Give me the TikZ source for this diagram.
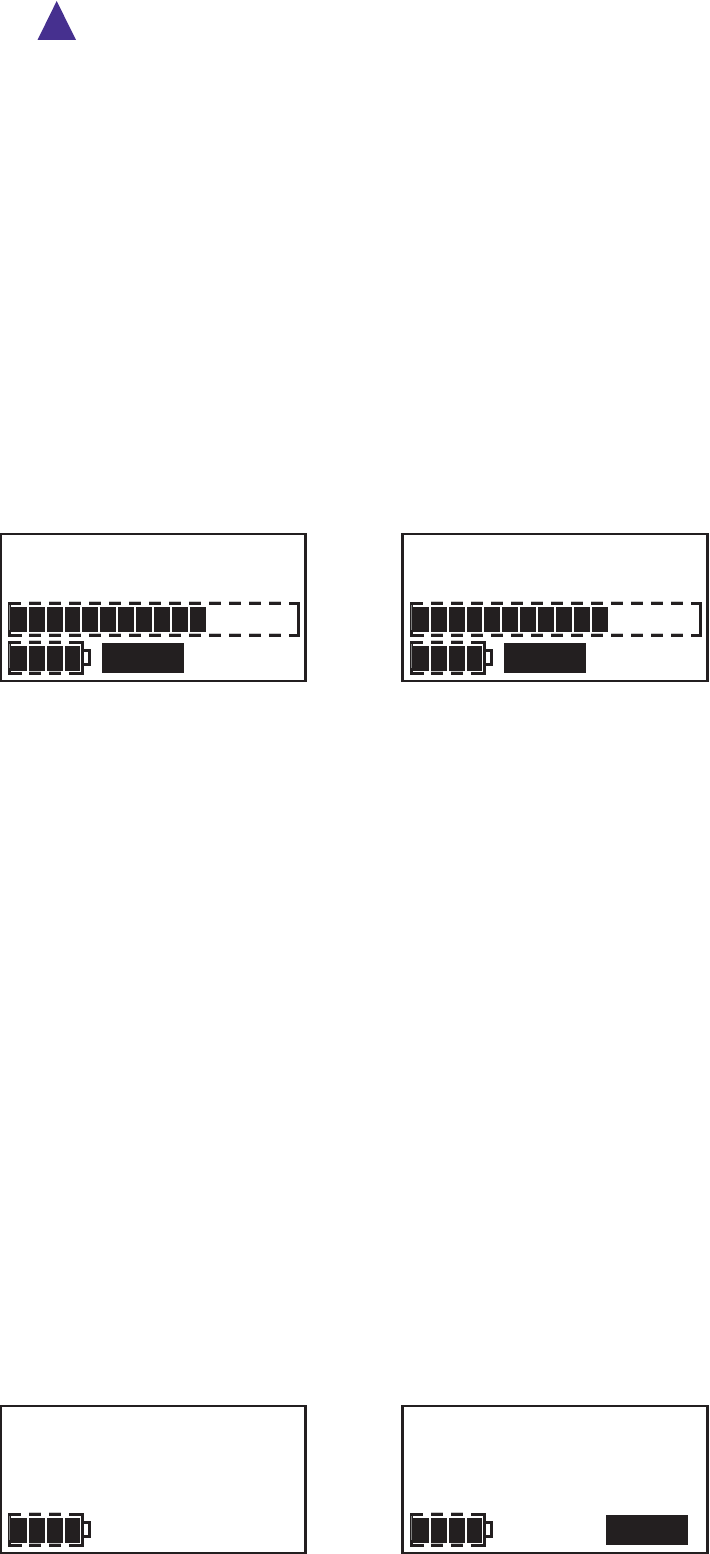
\documentclass[tikz,border=0pt]{standalone}
\definecolor{ink}{HTML}{231F20}
\definecolor{tri}{HTML}{46308F}
\tikzset{
  frameline/.style={draw=ink,line width=2.4pt,fill=white},
  outline/.style={draw=ink,line width=3pt},
  ghost/.style={draw=black!22,line width=1pt},
  leftghost/.style={draw=black!50,line width=1.2pt},
  blockfill/.style={fill=ink,draw=none},
}
% horizontal dashes: #1 = y, #2 = list of start x
\newcommand{\dashrow}[2]{%
  \foreach \dx in {#2}{%
    \draw[ghost] (\dx,#1-2) -- ++(12,0);
    \draw[outline] (\dx,#1) -- ++(12,0);
  }%
}
\newcommand{\battery}{%
  \foreach \a/\b in {11/27,29/45,47/63,65/80.3}{\fill[blockfill] (\a,645.7) rectangle (\b,670.5);}
  \draw[outline] (20.5,642) -- (9,642) -- (9,673.3) -- (21.5,673.3);
  \draw[leftghost] (9.2,644) -- (9.2,668);
  \dashrow{642}{29.3,49.3}
  \dashrow{673.3}{29.3,49.3}
  \draw[outline] (69.3,642) -- (82.3,642) -- (82.3,673.3) -- (69.3,673.3);
  \draw[outline] (82.3,650) -- (89.5,650) -- (89.5,664.5) -- (82.3,664.5);
}
\newcommand{\longbar}{%
  \foreach \a/\b in {11/27,29/45,47/63,65/80,82/98,100/116,118/134,136/152,154/170,172/188,190/206}{\fill[blockfill] (\a,606.7) rectangle (\b,632);}
  \draw[outline] (20.5,603.3) -- (9,603.3) -- (9,635.3) -- (21.5,635.3);
  \draw[leftghost] (9.2,605) -- (9.2,630);
  \dashrow{603.3}{29.3,49.3,69.3,89.3,109.3,129.3,149.3,169.3,189.3,209.3,229.3,249.3,269.3}
  \dashrow{635.3}{29.3,49.3,69.3,89.3,109.3,129.3,149.3,169.3,189.3,209.3,229.3,249.3,269.3}
  \draw[outline] (289.3,603.3) -- (298.8,603.3) -- (298.8,635.3) -- (289.3,635.3);
}
\begin{document}
\begin{tikzpicture}[x=1pt,y=-1pt]
\useasboundingbox (0,0) rectangle (709,1554);
\fill[white] (0,0) rectangle (709,1554);
\fill[tri] (56.7,1) -- (76,40) -- (37.5,40) -- cycle;
% upper left
\begin{scope}
  \draw[frameline] (0.6,534) rectangle (305.5,680.7);
  \longbar \battery
  \fill[blockfill] (102,643) rectangle (184,673);
\end{scope}
% upper right
\begin{scope}[shift={(402,0)}]
  \draw[frameline] (0.6,534) rectangle (305.5,680.7);
  \longbar \battery
  \fill[blockfill] (102,643) rectangle (184,673);
\end{scope}
% lower left
\begin{scope}[shift={(0,872)}]
  \draw[frameline] (0.6,534) rectangle (305.5,680.7);
  \battery
\end{scope}
% lower right
\begin{scope}[shift={(402,872)}]
  \draw[frameline] (0.6,534) rectangle (305.5,680.7);
  \battery
  \fill[blockfill] (204,643) rectangle (286,673);
\end{scope}
\end{tikzpicture}
\end{document}
